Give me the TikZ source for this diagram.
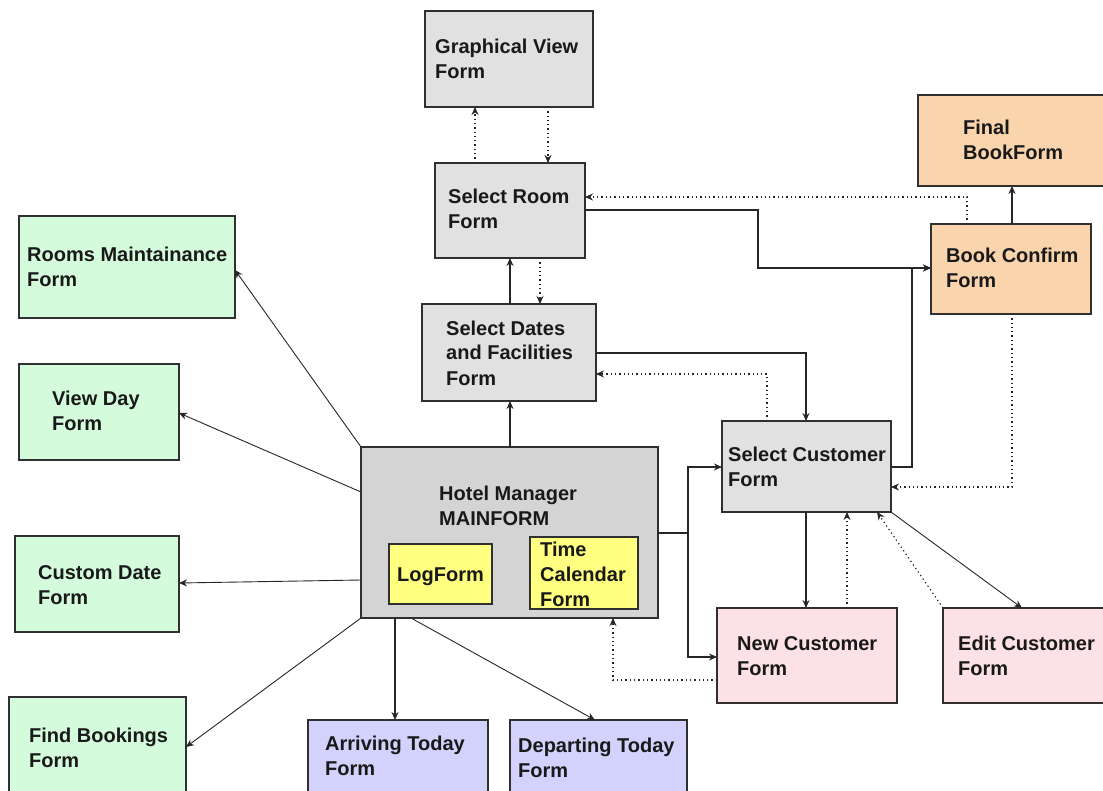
\documentclass[tikz,border=0pt]{standalone}
\usepackage{fontspec}
\setmainfont{Liberation Sans}
\usetikzlibrary{arrows.meta}
\definecolor{cgray}{HTML}{E1E1E1}
\definecolor{cmain}{HTML}{D4D4D4}
\definecolor{cgreen}{HTML}{D4FCDC}
\definecolor{corange}{HTML}{FAD4AC}
\definecolor{cyellow}{HTML}{FFFF80}
\definecolor{cpurple}{HTML}{D2D2FC}
\definecolor{cpink}{HTML}{FCE1E6}
\definecolor{cborder}{HTML}{303030}
\tikzset{
  box/.style={draw=cborder, line width=1.4pt, anchor=north west, inner sep=0pt, outer sep=0pt},
  txt/.style={font=\bfseries\fontsize{20}{25}\selectfont, align=left, anchor=base west, inner sep=0pt, text=black!90},
  conn/.style={draw=black!85, line width=1.2pt, -{Stealth[length=8pt,width=7pt]}},
  thinconn/.style={conn, line width=0.9pt},
  dot/.style={conn, line width=1.2pt, dash pattern=on 1.3pt off 3pt},
}
\begin{document}
\begin{tikzpicture}[x=1pt,y=-1pt]
\useasboundingbox (0,0) rectangle (1103,791);
% boxes
\node[box, fill=cgray, minimum width=168pt, minimum height=96pt] (gv) at (425,11) {};
\node[box, fill=cgray, minimum width=150pt, minimum height=95pt] (sr) at (435,163) {};
\node[box, fill=corange, minimum width=190pt, minimum height=91pt] (fb) at (918,95) {};
\node[box, fill=corange, minimum width=160pt, minimum height=90pt] (bc) at (931,224) {};
\node[box, fill=cgreen, minimum width=216pt, minimum height=102pt] (rm) at (19,216) {};
\node[box, fill=cgreen, minimum width=160pt, minimum height=96pt] (vd) at (19,364) {};
\node[box, fill=cgray, minimum width=174pt, minimum height=97pt] (sd) at (422,304) {};
\node[box, fill=cgray, minimum width=169pt, minimum height=91pt] (sc) at (722,421) {};
\node[box, fill=cmain, minimum width=297pt, minimum height=171pt] (hm) at (361,447) {};
\node[box, fill=cyellow, minimum width=103pt, minimum height=60pt] (lf) at (389,544) {};
\node[box, fill=cyellow, minimum width=108pt, minimum height=72pt] (tc) at (530,537) {};
\node[box, fill=cgreen, minimum width=164pt, minimum height=96pt] (cd) at (15,536) {};
\node[box, fill=cgreen, minimum width=177pt, minimum height=100pt] (fbk) at (9,697) {};
\node[box, fill=cpurple, minimum width=180pt, minimum height=80pt] (at) at (308,720) {};
\node[box, fill=cpurple, minimum width=177pt, minimum height=80pt] (dt) at (510,720) {};
\node[box, fill=cpink, minimum width=180pt, minimum height=95pt] (nc) at (717,608) {};
\node[box, fill=cpink, minimum width=165pt, minimum height=95pt] (ec) at (943,608) {};
% texts (base anchor = baseline of last line)
\node[txt] (gvt) at (435,79) {Graphical View\\Form};
\node[txt] (srt) at (448,229) {Select Room\\Form};
\node[txt] (fbt) at (963,160) {Final\\BookForm};
\node[txt] (bct) at (946,288) {Book Confirm\\Form};
\node[txt] (rmt) at (27,287) {Rooms Maintainance\\Form};
\node[txt] (vdt) at (52,431) {View Day\\Form};
\node[txt] (sdt) at (446,385) {Select Dates\\and Facilities\\Form};
\node[txt] (sct) at (728,486) {Select Customer\\Form};
\node[txt] (hmt) at (439,525) {Hotel Manager\\MAINFORM};
\node[txt] (lft) at (397,581) {LogForm};
\node[txt] (tct) at (540,606) {Time\\Calendar\\Form};
\node[txt] (cdt) at (38,604) {Custom Date\\Form};
\node[txt] (fbkt) at (29,767) {Find Bookings\\Form};
\node[txt] (att) at (325,775) {Arriving Today\\Form};
\node[txt] (dtt) at (518,777) {Departing Today\\Form};
\node[txt] (nct) at (737,675) {New Customer\\Form};
\node[txt] (ect) at (958,675) {Edit Customer\\Form};
% connectors
\draw[dot] (475,0 |- sr.north) -- (475,0 |- gv.south);
\draw[dot] (548,0 |- gv.south) -- (548,0 |- sr.north);
\draw[conn] (1012,0 |- bc.north) -- (1012,0 |- fb.south);
\draw[dot] (967,0 |- bc.north) |- (sr.east |- 0,197);
\draw[conn] (sr.east |- 0,210) -| (758,268) -- (bc.west |- 0,268);
\draw[conn] (sc.east |- 0,467) -| (912,268) -- (bc.west |- 0,268);
\draw[dot] (1012,0 |- bc.south) |- (sc.east |- 0,487);
\draw[conn] (510,0 |- sd.north) -- (510,0 |- sr.south);
\draw[dot] (540,0 |- sr.south) -- (540,0 |- sd.north);
\draw[conn] (sd.east |- 0,353) -| (806,0 |- sc.north);
\draw[dot] (767,0 |- sc.north) |- (sd.east |- 0,374);
\draw[conn] (510,0 |- hm.north) -- (510,0 |- sd.south);
\draw[conn] (hm.east |- 0,533) -| (688,467) -- (sc.west |- 0,467);
\draw[conn] (hm.east |- 0,533) -| (688,657) -- (nc.west |- 0,657);
\draw[conn] (806,0 |- sc.south) -- (806,0 |- nc.north);
\draw[dot] (847,0 |- nc.north) -- (847,0 |- sc.south);
\draw[dot] (ec.north west) -- (877,0 |- sc.south);
\draw[thinconn] (sc.south east) -- (1022,0 |- ec.north);
\draw[dot] (nc.west |- 0,680) -| (613,0 |- hm.south);
\draw[thinconn] (hm.north west) -- (rm.east |- 0,270);
\draw[thinconn] (hm.west |- 0,492) -- (vd.east |- 0,413);
\draw[thinconn] (hm.west |- 0,580) -- (cd.east |- 0,583);
\draw[thinconn] (hm.south west) -- (fbk.east |- 0,747);
\draw[conn] (395,0 |- hm.south) -- (395,0 |- at.north);
\draw[thinconn] (411,0 |- hm.south) -- (595,0 |- dt.north);
\end{tikzpicture}
\end{document}
